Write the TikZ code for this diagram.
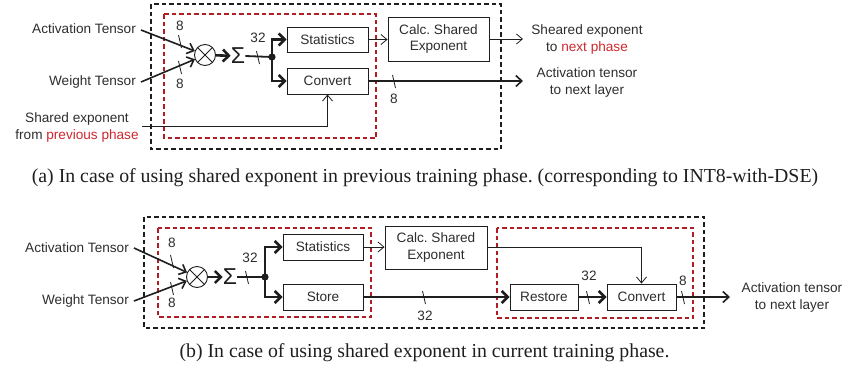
\documentclass[tikz,border=0pt]{standalone}
\usepackage{fontspec}
\setmainfont{Liberation Sans}
\newfontfamily\capfont{Liberation Serif}
\usetikzlibrary{arrows.meta,calc}
\definecolor{txt}{RGB}{45,45,45}
\definecolor{boxred}{RGB}{176,30,36}
\definecolor{redtxt}{RGB}{205,40,45}
\definecolor{ln}{RGB}{30,30,30}
\frenchspacing
\tikzset{
  lbl/.style={font=\fontsize{13.6}{17}\selectfont, text=txt, inner sep=0pt},
  num/.style={font=\fontsize{13.6}{17}\selectfont, text=txt, inner sep=0pt},
  blk/.style={draw=ln, line width=0.9pt, rectangle, font=\fontsize{13.6}{16.5}\selectfont, text=txt, align=center, inner sep=0pt},
  mult/.style={draw=ln, line width=0.9pt, circle, minimum size=21pt, inner sep=0pt},
  thinar/.style={draw=ln, line width=0.8pt, -{Straight Barb[length=6pt,width=10pt]}},
  medar/.style={draw=ln, line width=1.6pt, -{Straight Barb[length=6pt,width=11pt]}},
  medln/.style={draw=ln, line width=1.8pt},
  thkar/.style={draw=ln, line width=2.6pt, -{Straight Barb[length=6pt,width=12pt]}},
  tickl/.style={draw=ln, line width=0.8pt},
  bdash/.style={draw=ln, line width=1.3pt, dash pattern=on 4.5pt off 3pt},
  rdash/.style={draw=boxred, line width=1.3pt, dash pattern=on 4.5pt off 3pt},
  captxt/.style={font=\capfont\fontsize{19.8}{22}\selectfont, text=ln, inner sep=0pt, anchor=base},
  sig/.style={font=\fontsize{23}{23}\selectfont, text=ln, inner sep=0pt},
}
\begin{document}
\begin{tikzpicture}[x=1pt,y=-1pt]
\useasboundingbox (0,0) rectangle (846,375);
% ================= Panel (a) =================
\draw[bdash] (151,4) rectangle (501,149);
\draw[rdash] (164,14) rectangle (376,138);
\node[lbl, anchor=east] (actA) at (136,29) {Activation Tensor};
\node[lbl, anchor=east] (wA) at (136,82) {Weight Tensor};
\node[mult] (mulA) at (205,55) {};
\draw[line width=0.9pt, ln] (mulA.north west) -- (mulA.south east) (mulA.north east) -- (mulA.south west);
\node[sig] (sigA) at (238,56) {Σ};
\coordinate (dotA) at (272,57);
\node[blk, minimum width=81pt, minimum height=25pt] (statA) at (327.5,39.5) {Statistics};
\node[blk, minimum width=81pt, minimum height=26pt] (convA) at (327.5,81) {Convert};
\node[blk, minimum width=101pt, minimum height=44pt] (calcA) at (438.5,39) {Calc. Shared\\Exponent};
\node[lbl, align=center] (sheA) at (587,39) {Sheared exponent\\to \textcolor{redtxt}{next phase}};
\node[lbl, align=center] (actoutA) at (587,82) {Activation tensor\\to next layer};
\node[lbl, align=center] (prevA) at (77,127) {Shared exponent\\from \textcolor{redtxt}{previous phase}};
\coordinate (outA1) at (523,39);
\coordinate (outA2) at (523,81);
\coordinate (prevEnd) at (142,126);
\draw[medar] ([xshift=5pt,yshift=-1pt]actA.east) -- (mulA);
\draw[medar] ([xshift=5pt]wA.east) -- (mulA);
\draw[tickl] (178.5,35) -- (181.5,48);
\draw[tickl] (178.5,61) -- (181.5,74);
\node[num] (n8a1) at (180,26) {8};
\node[num] (n8a2) at (180,84) {8};
\draw[thkar] (mulA) -- (sigA);
\draw[medln] (sigA.east) -- (dotA);
\draw[tickl] (256.5,51) -- (259.5,64);
\node[num] (n32a) at (258,38) {32};
\fill[ln] (dotA) circle (3.6pt);
\draw[thkar] (dotA) |- (statA.west);
\draw[thkar] (dotA) |- (convA.west);
\draw[thinar] (statA.east) -- (calcA.west |- statA.east);
\draw[thinar] (calcA.east) -- (outA1);
\draw[medar] (convA.east) -- (outA2);
\draw[tickl] (392.5,75) -- (395.5,88);
\node[num] (n8a3) at (394,99) {8};
\draw[thinar] (prevEnd) -| (convA.south);
\node[captxt] (capA) at (425,182) {(a) In case of using shared exponent in previous training phase. (corresponding to INT8-with-DSE)};
% ================= Panel (b) =================
\draw[bdash] (144,217) rectangle (704,328);
\draw[rdash] (158,228) rectangle (371,317);
\draw[rdash] (497,228) rectangle (693,318);
\node[lbl, anchor=east] (actB) at (129,248) {Activation Tensor};
\node[lbl, anchor=east] (wB) at (129,301) {Weight Tensor};
\node[mult] (mulB) at (197,277) {};
\draw[line width=0.9pt, ln] (mulB.north west) -- (mulB.south east) (mulB.north east) -- (mulB.south west);
\node[sig] (sigB) at (230,277) {Σ};
\coordinate (dotB) at (265,277);
\node[blk, minimum width=80pt, minimum height=26pt] (statB) at (323,247) {Statistics};
\node[blk, minimum width=80pt, minimum height=26pt] (storeB) at (323,297) {Store};
\node[blk, minimum width=102pt, minimum height=43pt] (calcB) at (436,247.5) {Calc. Shared\\Exponent};
\node[blk, minimum width=68pt, minimum height=26pt] (restB) at (544,297) {Restore};
\node[blk, minimum width=69pt, minimum height=26pt] (convB) at (641.5,297) {Convert};
\node[lbl, align=center] (actoutB) at (792,297) {Activation tensor\\to next layer};
\coordinate (outB) at (730,297);
\draw[medar] ([xshift=5pt]actB.east) -- (mulB);
\draw[medar] ([xshift=5pt]wB.east) -- (mulB);
\draw[tickl] (170.5,255) -- (173.5,268);
\draw[tickl] (170.5,282) -- (173.5,295);
\node[num] (n8b1) at (172,243) {8};
\node[num] (n8b2) at (172,303) {8};
\draw[thkar] (mulB) -- (sigB);
\draw[medln] (sigB.east) -- (dotB);
\draw[tickl] (245.5,271) -- (248.5,284);
\node[num] (n32b1) at (250,258) {32};
\fill[ln] (dotB) circle (3.6pt);
\draw[thkar] (dotB) |- (statB.west);
\draw[thkar] (dotB) |- (storeB.west);
\draw[thinar] (statB.east) -- (calcB.west |- statB.east);
\draw[thinar] (calcB.east) -| (convB.north);
\draw[thkar] (storeB.east) -- (restB.west);
\draw[tickl] (422.5,291) -- (425.5,304);
\node[num] (n32b2) at (425,316) {32};
\draw[thkar] (restB.east) -- (convB.west);
\draw[tickl] (586.5,291) -- (589.5,304);
\node[num] (n32b3) at (589,276) {32};
\draw[medar] (convB.east) -- (outB);
\draw[tickl] (681.5,291) -- (684.5,304);
\node[num] (n8b3) at (683,281) {8};
\node[captxt] (capB) at (424.5,357) {(b) In case of using shared exponent in current training phase.};
\end{tikzpicture}
\end{document}
